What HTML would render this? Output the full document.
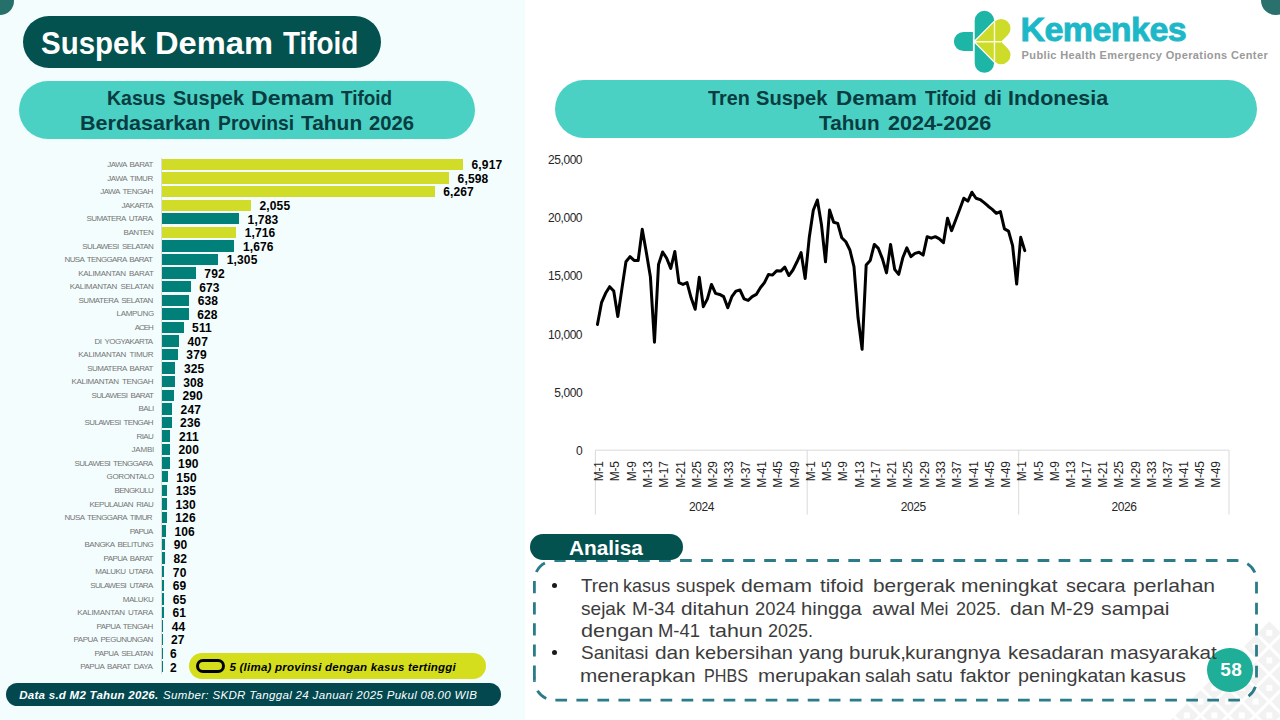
<!DOCTYPE html>
<html><head><meta charset="utf-8"><title>Suspek Demam Tifoid</title>
<style>html,body{margin:0;padding:0}body{width:1280px;height:720px;position:relative;overflow:hidden;background:#fff;font-family:'Liberation Sans',sans-serif}</style>
</head><body>
<div style="position:absolute;left:0;top:0;width:525px;height:720px;background:#f3fdfd"></div>
<svg style="position:absolute;left:0;top:0" width="1280" height="720" viewBox="0 0 1280 720"><path d="M1285.2 632.9 L1296.8 621.3 L1308.4 632.9 L1296.8 644.5 Z" fill="#f2f2f2"/><rect x="1293.8" y="629.9" width="6" height="6" fill="#fff"/><path d="M1285.2 660.4 L1296.8 648.8 L1308.4 660.4 L1296.8 672.0 Z" fill="#f2f2f2"/><rect x="1293.8" y="657.4" width="6" height="6" fill="#fff"/><path d="M1285.2 687.9 L1296.8 676.3 L1308.4 687.9 L1296.8 699.5 Z" fill="#f2f2f2"/><rect x="1293.8" y="684.9" width="6" height="6" fill="#fff"/><path d="M1285.2 715.4 L1296.8 703.8 L1308.4 715.4 L1296.8 727.0 Z" fill="#f2f2f2"/><rect x="1293.8" y="712.4" width="6" height="6" fill="#fff"/><path d="M1285.2 742.9 L1296.8 731.3 L1308.4 742.9 L1296.8 754.5 Z" fill="#f2f2f2"/><rect x="1293.8" y="739.9" width="6" height="6" fill="#fff"/><path d="M1271.5 646.6 L1283.0 635.0 L1294.6 646.6 L1283.0 658.2 Z" fill="#f2f2f2"/><rect x="1280.0" y="643.6" width="6" height="6" fill="#fff"/><path d="M1271.5 674.1 L1283.0 662.5 L1294.6 674.1 L1283.0 685.8 Z" fill="#f2f2f2"/><rect x="1280.0" y="671.1" width="6" height="6" fill="#fff"/><path d="M1271.5 701.6 L1283.0 690.0 L1294.6 701.6 L1283.0 713.2 Z" fill="#f2f2f2"/><rect x="1280.0" y="698.6" width="6" height="6" fill="#fff"/><path d="M1271.5 729.1 L1283.0 717.5 L1294.6 729.1 L1283.0 740.8 Z" fill="#f2f2f2"/><rect x="1280.0" y="726.1" width="6" height="6" fill="#fff"/><path d="M1257.7 632.9 L1269.3 621.3 L1280.9 632.9 L1269.3 644.5 Z" fill="#f2f2f2"/><rect x="1266.3" y="629.9" width="6" height="6" fill="#fff"/><path d="M1257.7 660.4 L1269.3 648.8 L1280.9 660.4 L1269.3 672.0 Z" fill="#f2f2f2"/><rect x="1266.3" y="657.4" width="6" height="6" fill="#fff"/><path d="M1257.7 687.9 L1269.3 676.3 L1280.9 687.9 L1269.3 699.5 Z" fill="#f2f2f2"/><rect x="1266.3" y="684.9" width="6" height="6" fill="#fff"/><path d="M1257.7 715.4 L1269.3 703.8 L1280.9 715.4 L1269.3 727.0 Z" fill="#f2f2f2"/><rect x="1266.3" y="712.4" width="6" height="6" fill="#fff"/><path d="M1257.7 742.9 L1269.3 731.3 L1280.9 742.9 L1269.3 754.5 Z" fill="#f2f2f2"/><rect x="1266.3" y="739.9" width="6" height="6" fill="#fff"/><path d="M1244.0 646.6 L1255.5 635.0 L1267.1 646.6 L1255.5 658.2 Z" fill="#f2f2f2"/><rect x="1252.5" y="643.6" width="6" height="6" fill="#fff"/><path d="M1244.0 674.1 L1255.5 662.5 L1267.1 674.1 L1255.5 685.8 Z" fill="#f2f2f2"/><rect x="1252.5" y="671.1" width="6" height="6" fill="#fff"/><path d="M1244.0 701.6 L1255.5 690.0 L1267.1 701.6 L1255.5 713.2 Z" fill="#f2f2f2"/><rect x="1252.5" y="698.6" width="6" height="6" fill="#fff"/><path d="M1244.0 729.1 L1255.5 717.5 L1267.1 729.1 L1255.5 740.8 Z" fill="#f2f2f2"/><rect x="1252.5" y="726.1" width="6" height="6" fill="#fff"/><path d="M1230.2 660.4 L1241.8 648.8 L1253.4 660.4 L1241.8 672.0 Z" fill="#f2f2f2"/><rect x="1238.8" y="657.4" width="6" height="6" fill="#fff"/><path d="M1230.2 687.9 L1241.8 676.3 L1253.4 687.9 L1241.8 699.5 Z" fill="#f2f2f2"/><rect x="1238.8" y="684.9" width="6" height="6" fill="#fff"/><path d="M1230.2 715.4 L1241.8 703.8 L1253.4 715.4 L1241.8 727.0 Z" fill="#f2f2f2"/><rect x="1238.8" y="712.4" width="6" height="6" fill="#fff"/><path d="M1230.2 742.9 L1241.8 731.3 L1253.4 742.9 L1241.8 754.5 Z" fill="#f2f2f2"/><rect x="1238.8" y="739.9" width="6" height="6" fill="#fff"/><path d="M1216.5 674.1 L1228.0 662.5 L1239.6 674.1 L1228.0 685.8 Z" fill="#f2f2f2"/><rect x="1225.0" y="671.1" width="6" height="6" fill="#fff"/><path d="M1216.5 701.6 L1228.0 690.0 L1239.6 701.6 L1228.0 713.2 Z" fill="#f2f2f2"/><rect x="1225.0" y="698.6" width="6" height="6" fill="#fff"/><path d="M1216.5 729.1 L1228.0 717.5 L1239.6 729.1 L1228.0 740.8 Z" fill="#f2f2f2"/><rect x="1225.0" y="726.1" width="6" height="6" fill="#fff"/><path d="M1202.7 687.9 L1214.3 676.3 L1225.9 687.9 L1214.3 699.5 Z" fill="#f2f2f2"/><rect x="1211.3" y="684.9" width="6" height="6" fill="#fff"/><path d="M1202.7 715.4 L1214.3 703.8 L1225.9 715.4 L1214.3 727.0 Z" fill="#f2f2f2"/><rect x="1211.3" y="712.4" width="6" height="6" fill="#fff"/><path d="M1202.7 742.9 L1214.3 731.3 L1225.9 742.9 L1214.3 754.5 Z" fill="#f2f2f2"/><rect x="1211.3" y="739.9" width="6" height="6" fill="#fff"/><path d="M1189.0 701.6 L1200.5 690.0 L1212.1 701.6 L1200.5 713.2 Z" fill="#f2f2f2"/><rect x="1197.5" y="698.6" width="6" height="6" fill="#fff"/><path d="M1189.0 729.1 L1200.5 717.5 L1212.1 729.1 L1200.5 740.8 Z" fill="#f2f2f2"/><rect x="1197.5" y="726.1" width="6" height="6" fill="#fff"/><path d="M1175.2 715.4 L1186.8 703.8 L1198.4 715.4 L1186.8 727.0 Z" fill="#f2f2f2"/><rect x="1183.8" y="712.4" width="6" height="6" fill="#fff"/><path d="M1175.2 742.9 L1186.8 731.3 L1198.4 742.9 L1186.8 754.5 Z" fill="#f2f2f2"/><rect x="1183.8" y="739.9" width="6" height="6" fill="#fff"/><path d="M1161.5 729.1 L1173.0 717.5 L1184.6 729.1 L1173.0 740.8 Z" fill="#f2f2f2"/><rect x="1170.0" y="726.1" width="6" height="6" fill="#fff"/><path d="M1147.7 742.9 L1159.3 731.3 L1170.9 742.9 L1159.3 754.5 Z" fill="#f2f2f2"/><rect x="1156.3" y="739.9" width="6" height="6" fill="#fff"/></svg>
<div style="position:absolute;left:-14px;top:-13px;width:28px;height:28px;border-radius:50%;background:#26706b"></div>
<div style="position:absolute;left:1261px;top:-14.5px;width:30px;height:29.5px;border-radius:50%;background:#2a706c"></div>
<div style="position:absolute;left:23px;top:16px;width:357.5px;height:51.7px;border-radius:26px;background:#03524f"></div>
<div style="position:absolute;left:19px;top:80.5px;width:455.6px;height:58.3px;border-radius:29.2px;background:#4bd0c4"></div>
<div style="position:absolute;left:554.5px;top:80.3px;width:702.4px;height:58.2px;border-radius:29.2px;background:#4bd0c4"></div>
<svg style="position:absolute;left:940px;top:0" width="100" height="80" viewBox="940 0 100 80">
<g fill="#1db5a6">
<path d="M972.9 31.9 H963.5 A9.6 9.6 0 0 0 963.5 51.1 H972.9 Z"/>
<rect x="974.7" y="10.8" width="19.4" height="62" rx="9.7"/>
</g>
<path d="M974.9 41.7 L994.62 21.82 A9.3 9.3 0 0 1 1007.78 34.98 L1001.1 41.7 L1007.78 48.42 A9.3 9.3 0 0 1 994.62 61.58 Z" fill="#fff" stroke="#fff" stroke-width="2.6" stroke-linejoin="round"/>
<path d="M974.9 41.7 L994.62 21.82 A9.3 9.3 0 0 1 1007.78 34.98 L1001.1 41.7 L1007.78 48.42 A9.3 9.3 0 0 1 994.62 61.58 Z" fill="#cddc29"/>
<path d="M994.5 21.9 V61.5 M975 41.7 H1001.2" stroke="#fbfbe2" stroke-width="1.4" fill="none"/>
</svg>
<div style="position:absolute;left:160.6px;top:157.5px;width:1px;height:516px;background:#d9dcdc"></div>
<div style="position:absolute;left:162.10000000000002px;top:158.80px;width:300.92px;height:11.4px;background:#d0dc28"></div>
<div style="position:absolute;left:162.10000000000002px;top:172.38px;width:287.00px;height:11.4px;background:#d0dc28"></div>
<div style="position:absolute;left:162.10000000000002px;top:185.95px;width:272.57px;height:11.4px;background:#d0dc28"></div>
<div style="position:absolute;left:162.10000000000002px;top:199.53px;width:88.84px;height:11.4px;background:#d0dc28"></div>
<div style="position:absolute;left:162.10000000000002px;top:213.10px;width:76.97px;height:11.4px;background:#008078"></div>
<div style="position:absolute;left:162.10000000000002px;top:226.68px;width:74.05px;height:11.4px;background:#d0dc28"></div>
<div style="position:absolute;left:162.10000000000002px;top:240.25px;width:72.31px;height:11.4px;background:#008078"></div>
<div style="position:absolute;left:162.10000000000002px;top:253.82px;width:56.12px;height:11.4px;background:#008078"></div>
<div style="position:absolute;left:162.10000000000002px;top:267.40px;width:33.75px;height:11.4px;background:#008078"></div>
<div style="position:absolute;left:162.10000000000002px;top:280.98px;width:28.56px;height:11.4px;background:#008078"></div>
<div style="position:absolute;left:162.10000000000002px;top:294.55px;width:27.03px;height:11.4px;background:#008078"></div>
<div style="position:absolute;left:162.10000000000002px;top:308.12px;width:26.59px;height:11.4px;background:#008078"></div>
<div style="position:absolute;left:162.10000000000002px;top:321.70px;width:21.49px;height:11.4px;background:#008078"></div>
<div style="position:absolute;left:162.10000000000002px;top:335.27px;width:16.95px;height:11.4px;background:#008078"></div>
<div style="position:absolute;left:162.10000000000002px;top:348.85px;width:15.73px;height:11.4px;background:#008078"></div>
<div style="position:absolute;left:162.10000000000002px;top:362.43px;width:13.38px;height:11.4px;background:#008078"></div>
<div style="position:absolute;left:162.10000000000002px;top:376.00px;width:12.63px;height:11.4px;background:#008078"></div>
<div style="position:absolute;left:162.10000000000002px;top:389.57px;width:11.85px;height:11.4px;background:#008078"></div>
<div style="position:absolute;left:162.10000000000002px;top:403.15px;width:9.97px;height:11.4px;background:#008078"></div>
<div style="position:absolute;left:162.10000000000002px;top:416.73px;width:9.49px;height:11.4px;background:#008078"></div>
<div style="position:absolute;left:162.10000000000002px;top:430.30px;width:8.40px;height:11.4px;background:#008078"></div>
<div style="position:absolute;left:162.10000000000002px;top:443.88px;width:7.92px;height:11.4px;background:#008078"></div>
<div style="position:absolute;left:162.10000000000002px;top:457.45px;width:7.49px;height:11.4px;background:#008078"></div>
<div style="position:absolute;left:162.10000000000002px;top:471.02px;width:5.74px;height:11.4px;background:#008078"></div>
<div style="position:absolute;left:162.10000000000002px;top:484.60px;width:5.09px;height:11.4px;background:#008078"></div>
<div style="position:absolute;left:162.10000000000002px;top:498.18px;width:4.87px;height:11.4px;background:#008078"></div>
<div style="position:absolute;left:162.10000000000002px;top:511.75px;width:4.70px;height:11.4px;background:#008078"></div>
<div style="position:absolute;left:162.10000000000002px;top:525.33px;width:3.82px;height:11.4px;background:#008078"></div>
<div style="position:absolute;left:162.10000000000002px;top:538.90px;width:3.13px;height:11.4px;background:#008078"></div>
<div style="position:absolute;left:162.10000000000002px;top:552.47px;width:2.78px;height:11.4px;background:#008078"></div>
<div style="position:absolute;left:162.10000000000002px;top:566.05px;width:2.25px;height:11.4px;background:#008078"></div>
<div style="position:absolute;left:162.10000000000002px;top:579.62px;width:2.21px;height:11.4px;background:#008078"></div>
<div style="position:absolute;left:162.10000000000002px;top:593.20px;width:2.04px;height:11.4px;background:#008078"></div>
<div style="position:absolute;left:162.10000000000002px;top:606.77px;width:1.86px;height:11.4px;background:#008078"></div>
<div style="position:absolute;left:162.10000000000002px;top:620.35px;width:1.12px;height:11.4px;background:#008078"></div>
<div style="position:absolute;left:162.10000000000002px;top:633.92px;width:1.00px;height:11.4px;background:#008078"></div>
<div style="position:absolute;left:162.10000000000002px;top:647.50px;width:1.00px;height:11.4px;background:#008078"></div>
<div style="position:absolute;left:162.10000000000002px;top:661.08px;width:1.00px;height:11.4px;background:#008078"></div>
<div style="position:absolute;left:189.3px;top:652.8px;width:296.6px;height:25.8px;border-radius:12.9px;background:#d5de1c"></div>
<div style="position:absolute;left:196.2px;top:659.1px;width:22.9px;height:8.4px;border:3.2px solid #000;border-radius:7.4px"></div>
<div style="position:absolute;left:6px;top:683.3px;width:495px;height:22.7px;border-radius:11.4px;background:#03484f"></div>
<svg style="position:absolute;left:0;top:0" width="1280" height="720" viewBox="0 0 1280 720"><path d="M595.4 450.2 H1229.0" stroke="#d9d9d9" stroke-width="1" fill="none"/><path d="M595.4 450.2 V514.5" stroke="#d9d9d9" stroke-width="1" fill="none"/><path d="M807.2 450.2 V514.5" stroke="#d9d9d9" stroke-width="1" fill="none"/><path d="M1018.7 450.2 V514.5" stroke="#d9d9d9" stroke-width="1" fill="none"/><path d="M1229.0 450.2 V514.5" stroke="#d9d9d9" stroke-width="1" fill="none"/><text transform="translate(603.04 461.2) rotate(-90)" text-anchor="end" font-family="Liberation Sans, sans-serif" font-size="12" fill="#262626" letter-spacing="-0.2">M-1</text><text transform="translate(619.33 461.2) rotate(-90)" text-anchor="end" font-family="Liberation Sans, sans-serif" font-size="12" fill="#262626" letter-spacing="-0.2">M-5</text><text transform="translate(635.62 461.2) rotate(-90)" text-anchor="end" font-family="Liberation Sans, sans-serif" font-size="12" fill="#262626" letter-spacing="-0.2">M-9</text><text transform="translate(651.91 461.2) rotate(-90)" text-anchor="end" font-family="Liberation Sans, sans-serif" font-size="12" fill="#262626" letter-spacing="-0.2">M-13</text><text transform="translate(668.21 461.2) rotate(-90)" text-anchor="end" font-family="Liberation Sans, sans-serif" font-size="12" fill="#262626" letter-spacing="-0.2">M-17</text><text transform="translate(684.50 461.2) rotate(-90)" text-anchor="end" font-family="Liberation Sans, sans-serif" font-size="12" fill="#262626" letter-spacing="-0.2">M-21</text><text transform="translate(700.79 461.2) rotate(-90)" text-anchor="end" font-family="Liberation Sans, sans-serif" font-size="12" fill="#262626" letter-spacing="-0.2">M-25</text><text transform="translate(717.08 461.2) rotate(-90)" text-anchor="end" font-family="Liberation Sans, sans-serif" font-size="12" fill="#262626" letter-spacing="-0.2">M-29</text><text transform="translate(733.38 461.2) rotate(-90)" text-anchor="end" font-family="Liberation Sans, sans-serif" font-size="12" fill="#262626" letter-spacing="-0.2">M-33</text><text transform="translate(749.67 461.2) rotate(-90)" text-anchor="end" font-family="Liberation Sans, sans-serif" font-size="12" fill="#262626" letter-spacing="-0.2">M-37</text><text transform="translate(765.96 461.2) rotate(-90)" text-anchor="end" font-family="Liberation Sans, sans-serif" font-size="12" fill="#262626" letter-spacing="-0.2">M-41</text><text transform="translate(782.25 461.2) rotate(-90)" text-anchor="end" font-family="Liberation Sans, sans-serif" font-size="12" fill="#262626" letter-spacing="-0.2">M-45</text><text transform="translate(798.54 461.2) rotate(-90)" text-anchor="end" font-family="Liberation Sans, sans-serif" font-size="12" fill="#262626" letter-spacing="-0.2">M-49</text><text transform="translate(814.83 461.2) rotate(-90)" text-anchor="end" font-family="Liberation Sans, sans-serif" font-size="12" fill="#262626" letter-spacing="-0.2">M-1</text><text transform="translate(831.10 461.2) rotate(-90)" text-anchor="end" font-family="Liberation Sans, sans-serif" font-size="12" fill="#262626" letter-spacing="-0.2">M-5</text><text transform="translate(847.37 461.2) rotate(-90)" text-anchor="end" font-family="Liberation Sans, sans-serif" font-size="12" fill="#262626" letter-spacing="-0.2">M-9</text><text transform="translate(863.64 461.2) rotate(-90)" text-anchor="end" font-family="Liberation Sans, sans-serif" font-size="12" fill="#262626" letter-spacing="-0.2">M-13</text><text transform="translate(879.91 461.2) rotate(-90)" text-anchor="end" font-family="Liberation Sans, sans-serif" font-size="12" fill="#262626" letter-spacing="-0.2">M-17</text><text transform="translate(896.18 461.2) rotate(-90)" text-anchor="end" font-family="Liberation Sans, sans-serif" font-size="12" fill="#262626" letter-spacing="-0.2">M-21</text><text transform="translate(912.45 461.2) rotate(-90)" text-anchor="end" font-family="Liberation Sans, sans-serif" font-size="12" fill="#262626" letter-spacing="-0.2">M-25</text><text transform="translate(928.72 461.2) rotate(-90)" text-anchor="end" font-family="Liberation Sans, sans-serif" font-size="12" fill="#262626" letter-spacing="-0.2">M-29</text><text transform="translate(944.99 461.2) rotate(-90)" text-anchor="end" font-family="Liberation Sans, sans-serif" font-size="12" fill="#262626" letter-spacing="-0.2">M-33</text><text transform="translate(961.26 461.2) rotate(-90)" text-anchor="end" font-family="Liberation Sans, sans-serif" font-size="12" fill="#262626" letter-spacing="-0.2">M-37</text><text transform="translate(977.53 461.2) rotate(-90)" text-anchor="end" font-family="Liberation Sans, sans-serif" font-size="12" fill="#262626" letter-spacing="-0.2">M-41</text><text transform="translate(993.80 461.2) rotate(-90)" text-anchor="end" font-family="Liberation Sans, sans-serif" font-size="12" fill="#262626" letter-spacing="-0.2">M-45</text><text transform="translate(1010.06 461.2) rotate(-90)" text-anchor="end" font-family="Liberation Sans, sans-serif" font-size="12" fill="#262626" letter-spacing="-0.2">M-49</text><text transform="translate(1026.32 461.2) rotate(-90)" text-anchor="end" font-family="Liberation Sans, sans-serif" font-size="12" fill="#262626" letter-spacing="-0.2">M-1</text><text transform="translate(1042.50 461.2) rotate(-90)" text-anchor="end" font-family="Liberation Sans, sans-serif" font-size="12" fill="#262626" letter-spacing="-0.2">M-5</text><text transform="translate(1058.68 461.2) rotate(-90)" text-anchor="end" font-family="Liberation Sans, sans-serif" font-size="12" fill="#262626" letter-spacing="-0.2">M-9</text><text transform="translate(1074.85 461.2) rotate(-90)" text-anchor="end" font-family="Liberation Sans, sans-serif" font-size="12" fill="#262626" letter-spacing="-0.2">M-13</text><text transform="translate(1091.03 461.2) rotate(-90)" text-anchor="end" font-family="Liberation Sans, sans-serif" font-size="12" fill="#262626" letter-spacing="-0.2">M-17</text><text transform="translate(1107.21 461.2) rotate(-90)" text-anchor="end" font-family="Liberation Sans, sans-serif" font-size="12" fill="#262626" letter-spacing="-0.2">M-21</text><text transform="translate(1123.38 461.2) rotate(-90)" text-anchor="end" font-family="Liberation Sans, sans-serif" font-size="12" fill="#262626" letter-spacing="-0.2">M-25</text><text transform="translate(1139.56 461.2) rotate(-90)" text-anchor="end" font-family="Liberation Sans, sans-serif" font-size="12" fill="#262626" letter-spacing="-0.2">M-29</text><text transform="translate(1155.74 461.2) rotate(-90)" text-anchor="end" font-family="Liberation Sans, sans-serif" font-size="12" fill="#262626" letter-spacing="-0.2">M-33</text><text transform="translate(1171.91 461.2) rotate(-90)" text-anchor="end" font-family="Liberation Sans, sans-serif" font-size="12" fill="#262626" letter-spacing="-0.2">M-37</text><text transform="translate(1188.09 461.2) rotate(-90)" text-anchor="end" font-family="Liberation Sans, sans-serif" font-size="12" fill="#262626" letter-spacing="-0.2">M-41</text><text transform="translate(1204.27 461.2) rotate(-90)" text-anchor="end" font-family="Liberation Sans, sans-serif" font-size="12" fill="#262626" letter-spacing="-0.2">M-45</text><text transform="translate(1220.45 461.2) rotate(-90)" text-anchor="end" font-family="Liberation Sans, sans-serif" font-size="12" fill="#262626" letter-spacing="-0.2">M-49</text><text x="701.6" y="511" text-anchor="middle" font-family="Liberation Sans, sans-serif" font-size="12" fill="#262626" letter-spacing="-0.4">2024</text><text x="913.2" y="511" text-anchor="middle" font-family="Liberation Sans, sans-serif" font-size="12" fill="#262626" letter-spacing="-0.4">2025</text><text x="1124.1" y="511" text-anchor="middle" font-family="Liberation Sans, sans-serif" font-size="12" fill="#262626" letter-spacing="-0.4">2026</text><polyline points="597.44,324.44 601.51,302.67 605.58,293.33 609.66,286.67 613.73,291.11 617.80,316.44 621.88,288.89 625.95,261.78 630.02,256.67 634.09,260.44 638.17,260.44 642.24,229.33 646.31,252.22 650.39,276.67 654.46,342.22 658.53,264.44 662.61,252.00 666.68,258.22 670.75,268.44 674.83,251.56 678.90,282.67 682.97,284.44 687.04,282.67 691.12,297.78 695.19,309.33 699.26,277.33 703.34,306.67 707.41,298.89 711.48,284.44 715.56,293.33 719.63,294.44 723.70,296.67 727.77,307.78 731.85,296.67 735.92,291.11 739.99,290.00 744.07,298.89 748.14,300.44 752.21,296.67 756.29,294.44 760.36,287.78 764.43,282.67 768.51,274.44 772.58,275.11 776.65,270.67 780.73,271.11 784.80,267.11 788.87,275.56 792.94,270.00 797.02,261.78 801.09,252.67 805.16,278.44 809.23,237.78 813.30,210.22 817.37,200.00 821.44,224.44 825.50,261.78 829.57,210.00 833.64,222.22 837.70,223.33 841.77,237.78 845.84,241.78 849.91,250.00 853.97,266.67 858.04,317.78 862.11,349.33 866.18,264.89 870.24,260.44 874.31,244.44 878.38,248.44 882.45,258.89 886.51,272.89 890.58,244.44 894.65,269.33 898.71,274.44 902.78,257.78 906.85,247.78 910.92,256.67 914.98,253.33 919.05,252.22 923.12,255.11 927.19,236.67 931.25,238.22 935.32,236.67 939.39,238.89 943.45,242.67 947.52,218.22 951.59,230.67 955.66,220.00 959.72,209.33 963.79,198.22 967.86,201.11 971.93,192.22 975.99,198.22 980.06,199.56 984.13,202.67 988.20,206.22 992.26,209.33 996.33,213.33 1000.40,211.56 1004.46,228.89 1008.53,231.11 1012.60,245.56 1016.67,284.00 1020.72,237.33 1024.77,250.67" fill="none" stroke="#000" stroke-width="3" stroke-linejoin="round" stroke-linecap="round"/></svg>
<svg style="position:absolute;left:0;top:0" width="1280" height="720" viewBox="0 0 1280 720"><g fill="none" stroke="#2a7c88" stroke-width="2.8">
<path d="M554.4 560.5 H1236.5 A20 20 0 0 1 1256.5 580.5 V680.2 A20 20 0 0 1 1236.5 700.2 H554.4 A20 20 0 0 1 534.4 680.2" stroke-dasharray="11.7 9.33" stroke-dashoffset="0.5"/>
<path d="M534.4 580.5 V680.4" stroke-dasharray="12.2 8.9" stroke-dashoffset="-0.6"/>
<path d="M534.4 677 V680.4"/>
<path d="M534.4 580.5 A20 20 0 0 1 554.4 560.5" stroke-dasharray="0 8.75 12.6 100"/>
</g></svg>
<div style="position:absolute;left:529.8px;top:533.9px;width:153.5px;height:25.8px;border-radius:12.9px;background:#03524f"></div>
<div style="position:absolute;left:551.8px;top:582.9px;width:5.2px;height:5.2px;border-radius:50%;background:#1a1a1a"></div>
<div style="position:absolute;left:551.8px;top:650.3px;width:5.2px;height:5.2px;border-radius:50%;background:#1a1a1a"></div>
<div style="position:absolute;left:1207.2px;top:647.8px;width:45.4px;height:44.4px;border-radius:50%;background:#1fae98"></div>
<span style="position:absolute;white-space:pre;font-family:'Liberation Sans',sans-serif;font-size:30.5px;line-height:30.5px;font-weight:700;font-style:normal;color:#fff;top:27.68px;left:40.90px;transform:scaleX(0.9656);transform-origin:0 0;">Suspek</span>
<span style="position:absolute;white-space:pre;font-family:'Liberation Sans',sans-serif;font-size:30.5px;line-height:30.5px;font-weight:700;font-style:normal;color:#fff;top:27.68px;left:155.06px;transform:scaleX(1.0703);transform-origin:0 0;">Demam</span>
<span style="position:absolute;white-space:pre;font-family:'Liberation Sans',sans-serif;font-size:30.5px;line-height:30.5px;font-weight:700;font-style:normal;color:#fff;top:27.68px;left:282.50px;transform:scaleX(0.9144);transform-origin:0 0;">Tifoid</span>
<span style="position:absolute;white-space:pre;font-family:'Liberation Sans',sans-serif;font-size:20.4px;line-height:20.4px;font-weight:700;font-style:normal;color:#083c40;top:87.93px;left:106.74px;transform:scaleX(0.9572);transform-origin:0 0;">Kasus</span>
<span style="position:absolute;white-space:pre;font-family:'Liberation Sans',sans-serif;font-size:20.4px;line-height:20.4px;font-weight:700;font-style:normal;color:#083c40;top:87.93px;left:173.00px;transform:scaleX(0.9796);transform-origin:0 0;">Suspek</span>
<span style="position:absolute;white-space:pre;font-family:'Liberation Sans',sans-serif;font-size:20.4px;line-height:20.4px;font-weight:700;font-style:normal;color:#083c40;top:87.93px;left:251.17px;transform:scaleX(1.1309);transform-origin:0 0;">Demam</span>
<span style="position:absolute;white-space:pre;font-family:'Liberation Sans',sans-serif;font-size:20.4px;line-height:20.4px;font-weight:700;font-style:normal;color:#083c40;top:87.93px;left:341.40px;transform:scaleX(0.9275);transform-origin:0 0;">Tifoid</span>
<span style="position:absolute;white-space:pre;font-family:'Liberation Sans',sans-serif;font-size:20.4px;line-height:20.4px;font-weight:700;font-style:normal;color:#083c40;top:113.23px;left:80.14px;transform:scaleX(1.0558);transform-origin:0 0;">Berdasarkan</span>
<span style="position:absolute;white-space:pre;font-family:'Liberation Sans',sans-serif;font-size:20.4px;line-height:20.4px;font-weight:700;font-style:normal;color:#083c40;top:113.23px;left:217.85px;transform:scaleX(0.9468);transform-origin:0 0;">Provinsi</span>
<span style="position:absolute;white-space:pre;font-family:'Liberation Sans',sans-serif;font-size:20.4px;line-height:20.4px;font-weight:700;font-style:normal;color:#083c40;top:113.23px;left:300.60px;transform:scaleX(1.0255);transform-origin:0 0;">Tahun</span>
<span style="position:absolute;white-space:pre;font-family:'Liberation Sans',sans-serif;font-size:20.4px;line-height:20.4px;font-weight:700;font-style:normal;color:#083c40;top:113.23px;left:369.00px;transform:scaleX(0.9929);transform-origin:0 0;">2026</span>
<span style="position:absolute;white-space:pre;font-family:'Liberation Sans',sans-serif;font-size:20.4px;line-height:20.4px;font-weight:700;font-style:normal;color:#083c40;top:87.98px;left:707.70px;transform:scaleX(0.9694);transform-origin:0 0;">Tren</span>
<span style="position:absolute;white-space:pre;font-family:'Liberation Sans',sans-serif;font-size:20.4px;line-height:20.4px;font-weight:700;font-style:normal;color:#083c40;top:87.98px;left:755.90px;transform:scaleX(0.9851);transform-origin:0 0;">Suspek</span>
<span style="position:absolute;white-space:pre;font-family:'Liberation Sans',sans-serif;font-size:20.4px;line-height:20.4px;font-weight:700;font-style:normal;color:#083c40;top:87.98px;left:836.40px;transform:scaleX(1.1001);transform-origin:0 0;">Demam</span>
<span style="position:absolute;white-space:pre;font-family:'Liberation Sans',sans-serif;font-size:20.4px;line-height:20.4px;font-weight:700;font-style:normal;color:#083c40;top:87.98px;left:924.90px;transform:scaleX(0.9293);transform-origin:0 0;">Tifoid</span>
<span style="position:absolute;white-space:pre;font-family:'Liberation Sans',sans-serif;font-size:20.4px;line-height:20.4px;font-weight:700;font-style:normal;color:#083c40;top:87.98px;left:984.20px;transform:scaleX(0.9854);transform-origin:0 0;">di</span>
<span style="position:absolute;white-space:pre;font-family:'Liberation Sans',sans-serif;font-size:20.4px;line-height:20.4px;font-weight:700;font-style:normal;color:#083c40;top:87.98px;left:1008.05px;transform:scaleX(1.0524);transform-origin:0 0;">Indonesia</span>
<span style="position:absolute;white-space:pre;font-family:'Liberation Sans',sans-serif;font-size:20.4px;line-height:20.4px;font-weight:700;font-style:normal;color:#083c40;top:113.43px;left:819.40px;transform:scaleX(1.0170);transform-origin:0 0;">Tahun</span>
<span style="position:absolute;white-space:pre;font-family:'Liberation Sans',sans-serif;font-size:20.4px;line-height:20.4px;font-weight:700;font-style:normal;color:#083c40;top:113.43px;left:887.80px;transform:scaleX(1.0600);transform-origin:0 0;">2024-2026</span>
<span style="position:absolute;white-space:pre;font-family:'Liberation Sans',sans-serif;font-size:34px;line-height:34px;font-weight:700;font-style:normal;color:#1cb8c8;top:12.22px;left:1020.45px;letter-spacing:-0.556px;-webkit-text-stroke:0.9px #1cb8c8;">Kemenkes</span>
<span style="position:absolute;white-space:pre;font-family:'Liberation Sans',sans-serif;font-size:11px;line-height:11px;font-weight:700;font-style:normal;color:#9a9a9a;top:49.69px;left:1021.60px;letter-spacing:0.375px;">Public Health Emergency Operations Center</span>
<span style="position:absolute;white-space:pre;font-family:'Liberation Sans',sans-serif;font-size:12px;line-height:12px;font-weight:700;font-style:normal;color:#000;top:159.34px;left:471.52px;letter-spacing:0.15px;">6,917</span>
<span style="position:absolute;white-space:pre;font-family:'Liberation Sans',sans-serif;font-size:8px;line-height:8px;font-weight:400;font-style:normal;color:#757575;top:161.13px;left:107.30px;letter-spacing:-0.549px;word-spacing:1.6px;">JAWA BARAT</span>
<span style="position:absolute;white-space:pre;font-family:'Liberation Sans',sans-serif;font-size:12px;line-height:12px;font-weight:700;font-style:normal;color:#000;top:172.92px;left:457.60px;letter-spacing:0.15px;">6,598</span>
<span style="position:absolute;white-space:pre;font-family:'Liberation Sans',sans-serif;font-size:8px;line-height:8px;font-weight:400;font-style:normal;color:#757575;top:174.70px;left:107.30px;letter-spacing:-0.478px;word-spacing:1.6px;">JAWA TIMUR</span>
<span style="position:absolute;white-space:pre;font-family:'Liberation Sans',sans-serif;font-size:12px;line-height:12px;font-weight:700;font-style:normal;color:#000;top:186.49px;left:443.17px;letter-spacing:0.15px;">6,267</span>
<span style="position:absolute;white-space:pre;font-family:'Liberation Sans',sans-serif;font-size:8px;line-height:8px;font-weight:400;font-style:normal;color:#757575;top:188.28px;left:100.30px;letter-spacing:-0.531px;word-spacing:1.6px;">JAWA TENGAH</span>
<span style="position:absolute;white-space:pre;font-family:'Liberation Sans',sans-serif;font-size:12px;line-height:12px;font-weight:700;font-style:normal;color:#000;top:200.07px;left:259.44px;letter-spacing:0.15px;">2,055</span>
<span style="position:absolute;white-space:pre;font-family:'Liberation Sans',sans-serif;font-size:8px;line-height:8px;font-weight:400;font-style:normal;color:#757575;top:201.85px;left:121.55px;letter-spacing:-0.581px;word-spacing:1.6px;">JAKARTA</span>
<span style="position:absolute;white-space:pre;font-family:'Liberation Sans',sans-serif;font-size:12px;line-height:12px;font-weight:700;font-style:normal;color:#000;top:213.64px;left:247.57px;letter-spacing:0.15px;">1,783</span>
<span style="position:absolute;white-space:pre;font-family:'Liberation Sans',sans-serif;font-size:8px;line-height:8px;font-weight:400;font-style:normal;color:#757575;top:215.43px;left:86.55px;letter-spacing:-0.570px;word-spacing:1.6px;">SUMATERA UTARA</span>
<span style="position:absolute;white-space:pre;font-family:'Liberation Sans',sans-serif;font-size:12px;line-height:12px;font-weight:700;font-style:normal;color:#000;top:227.22px;left:244.65px;letter-spacing:0.15px;">1,716</span>
<span style="position:absolute;white-space:pre;font-family:'Liberation Sans',sans-serif;font-size:8px;line-height:8px;font-weight:400;font-style:normal;color:#757575;top:229.00px;left:123.55px;letter-spacing:-0.444px;word-spacing:1.6px;">BANTEN</span>
<span style="position:absolute;white-space:pre;font-family:'Liberation Sans',sans-serif;font-size:12px;line-height:12px;font-weight:700;font-style:normal;color:#000;top:240.79px;left:242.91px;letter-spacing:0.15px;">1,676</span>
<span style="position:absolute;white-space:pre;font-family:'Liberation Sans',sans-serif;font-size:8px;line-height:8px;font-weight:400;font-style:normal;color:#757575;top:242.58px;left:82.30px;letter-spacing:-0.577px;word-spacing:1.6px;">SULAWESI SELATAN</span>
<span style="position:absolute;white-space:pre;font-family:'Liberation Sans',sans-serif;font-size:12px;line-height:12px;font-weight:700;font-style:normal;color:#000;top:254.37px;left:226.72px;letter-spacing:0.15px;">1,305</span>
<span style="position:absolute;white-space:pre;font-family:'Liberation Sans',sans-serif;font-size:8px;line-height:8px;font-weight:400;font-style:normal;color:#757575;top:256.15px;left:64.55px;letter-spacing:-0.639px;word-spacing:1.6px;">NUSA TENGGARA BARAT</span>
<span style="position:absolute;white-space:pre;font-family:'Liberation Sans',sans-serif;font-size:12px;line-height:12px;font-weight:700;font-style:normal;color:#000;top:267.94px;left:204.35px;letter-spacing:0.15px;">792</span>
<span style="position:absolute;white-space:pre;font-family:'Liberation Sans',sans-serif;font-size:8px;line-height:8px;font-weight:400;font-style:normal;color:#757575;top:269.73px;left:78.30px;letter-spacing:-0.323px;word-spacing:1.6px;">KALIMANTAN BARAT</span>
<span style="position:absolute;white-space:pre;font-family:'Liberation Sans',sans-serif;font-size:12px;line-height:12px;font-weight:700;font-style:normal;color:#000;top:281.52px;left:199.16px;letter-spacing:0.15px;">673</span>
<span style="position:absolute;white-space:pre;font-family:'Liberation Sans',sans-serif;font-size:8px;line-height:8px;font-weight:400;font-style:normal;color:#757575;top:283.30px;left:69.80px;letter-spacing:-0.332px;word-spacing:1.6px;">KALIMANTAN SELATAN</span>
<span style="position:absolute;white-space:pre;font-family:'Liberation Sans',sans-serif;font-size:12px;line-height:12px;font-weight:700;font-style:normal;color:#000;top:295.09px;left:197.63px;letter-spacing:0.15px;">638</span>
<span style="position:absolute;white-space:pre;font-family:'Liberation Sans',sans-serif;font-size:8px;line-height:8px;font-weight:400;font-style:normal;color:#757575;top:296.88px;left:78.55px;letter-spacing:-0.515px;word-spacing:1.6px;">SUMATERA SELATAN</span>
<span style="position:absolute;white-space:pre;font-family:'Liberation Sans',sans-serif;font-size:12px;line-height:12px;font-weight:700;font-style:normal;color:#000;top:308.67px;left:197.19px;letter-spacing:0.15px;">628</span>
<span style="position:absolute;white-space:pre;font-family:'Liberation Sans',sans-serif;font-size:8px;line-height:8px;font-weight:400;font-style:normal;color:#757575;top:310.45px;left:116.55px;letter-spacing:-0.315px;word-spacing:1.6px;">LAMPUNG</span>
<span style="position:absolute;white-space:pre;font-family:'Liberation Sans',sans-serif;font-size:12px;line-height:12px;font-weight:700;font-style:normal;color:#000;top:322.24px;left:192.09px;letter-spacing:0.15px;">511</span>
<span style="position:absolute;white-space:pre;font-family:'Liberation Sans',sans-serif;font-size:8px;line-height:8px;font-weight:400;font-style:normal;color:#757575;top:324.03px;left:134.80px;letter-spacing:-1.083px;word-spacing:1.6px;">ACEH</span>
<span style="position:absolute;white-space:pre;font-family:'Liberation Sans',sans-serif;font-size:12px;line-height:12px;font-weight:700;font-style:normal;color:#000;top:335.82px;left:187.55px;letter-spacing:0.15px;">407</span>
<span style="position:absolute;white-space:pre;font-family:'Liberation Sans',sans-serif;font-size:8px;line-height:8px;font-weight:400;font-style:normal;color:#757575;top:337.60px;left:94.55px;letter-spacing:-0.569px;word-spacing:1.6px;">DI YOGYAKARTA</span>
<span style="position:absolute;white-space:pre;font-family:'Liberation Sans',sans-serif;font-size:12px;line-height:12px;font-weight:700;font-style:normal;color:#000;top:349.39px;left:186.33px;letter-spacing:0.15px;">379</span>
<span style="position:absolute;white-space:pre;font-family:'Liberation Sans',sans-serif;font-size:8px;line-height:8px;font-weight:400;font-style:normal;color:#757575;top:351.18px;left:78.30px;letter-spacing:-0.280px;word-spacing:1.6px;">KALIMANTAN TIMUR</span>
<span style="position:absolute;white-space:pre;font-family:'Liberation Sans',sans-serif;font-size:12px;line-height:12px;font-weight:700;font-style:normal;color:#000;top:362.97px;left:183.98px;letter-spacing:0.15px;">325</span>
<span style="position:absolute;white-space:pre;font-family:'Liberation Sans',sans-serif;font-size:8px;line-height:8px;font-weight:400;font-style:normal;color:#757575;top:364.75px;left:87.30px;letter-spacing:-0.552px;word-spacing:1.6px;">SUMATERA BARAT</span>
<span style="position:absolute;white-space:pre;font-family:'Liberation Sans',sans-serif;font-size:12px;line-height:12px;font-weight:700;font-style:normal;color:#000;top:376.54px;left:183.23px;letter-spacing:0.15px;">308</span>
<span style="position:absolute;white-space:pre;font-family:'Liberation Sans',sans-serif;font-size:8px;line-height:8px;font-weight:400;font-style:normal;color:#757575;top:378.33px;left:71.55px;letter-spacing:-0.341px;word-spacing:1.6px;">KALIMANTAN TENGAH</span>
<span style="position:absolute;white-space:pre;font-family:'Liberation Sans',sans-serif;font-size:12px;line-height:12px;font-weight:700;font-style:normal;color:#000;top:390.12px;left:182.45px;letter-spacing:0.15px;">290</span>
<span style="position:absolute;white-space:pre;font-family:'Liberation Sans',sans-serif;font-size:8px;line-height:8px;font-weight:400;font-style:normal;color:#757575;top:391.90px;left:91.55px;letter-spacing:-0.662px;word-spacing:1.6px;">SULAWESI BARAT</span>
<span style="position:absolute;white-space:pre;font-family:'Liberation Sans',sans-serif;font-size:12px;line-height:12px;font-weight:700;font-style:normal;color:#000;top:403.69px;left:180.57px;letter-spacing:0.15px;">247</span>
<span style="position:absolute;white-space:pre;font-family:'Liberation Sans',sans-serif;font-size:8px;line-height:8px;font-weight:400;font-style:normal;color:#757575;top:405.48px;left:138.55px;letter-spacing:-0.557px;word-spacing:1.6px;">BALI</span>
<span style="position:absolute;white-space:pre;font-family:'Liberation Sans',sans-serif;font-size:12px;line-height:12px;font-weight:700;font-style:normal;color:#000;top:417.27px;left:180.09px;letter-spacing:0.15px;">236</span>
<span style="position:absolute;white-space:pre;font-family:'Liberation Sans',sans-serif;font-size:8px;line-height:8px;font-weight:400;font-style:normal;color:#757575;top:419.05px;left:84.55px;letter-spacing:-0.641px;word-spacing:1.6px;">SULAWESI TENGAH</span>
<span style="position:absolute;white-space:pre;font-family:'Liberation Sans',sans-serif;font-size:12px;line-height:12px;font-weight:700;font-style:normal;color:#000;top:430.84px;left:179.00px;letter-spacing:0.15px;">211</span>
<span style="position:absolute;white-space:pre;font-family:'Liberation Sans',sans-serif;font-size:8px;line-height:8px;font-weight:400;font-style:normal;color:#757575;top:432.63px;left:136.55px;letter-spacing:-0.629px;word-spacing:1.6px;">RIAU</span>
<span style="position:absolute;white-space:pre;font-family:'Liberation Sans',sans-serif;font-size:12px;line-height:12px;font-weight:700;font-style:normal;color:#000;top:444.42px;left:178.52px;letter-spacing:0.15px;">200</span>
<span style="position:absolute;white-space:pre;font-family:'Liberation Sans',sans-serif;font-size:8px;line-height:8px;font-weight:400;font-style:normal;color:#757575;top:446.20px;left:131.55px;letter-spacing:-0.221px;word-spacing:1.6px;">JAMBI</span>
<span style="position:absolute;white-space:pre;font-family:'Liberation Sans',sans-serif;font-size:12px;line-height:12px;font-weight:700;font-style:normal;color:#000;top:457.99px;left:178.09px;letter-spacing:0.15px;">190</span>
<span style="position:absolute;white-space:pre;font-family:'Liberation Sans',sans-serif;font-size:8px;line-height:8px;font-weight:400;font-style:normal;color:#757575;top:459.78px;left:74.55px;letter-spacing:-0.686px;word-spacing:1.6px;">SULAWESI TENGGARA</span>
<span style="position:absolute;white-space:pre;font-family:'Liberation Sans',sans-serif;font-size:12px;line-height:12px;font-weight:700;font-style:normal;color:#000;top:471.57px;left:176.34px;letter-spacing:0.15px;">150</span>
<span style="position:absolute;white-space:pre;font-family:'Liberation Sans',sans-serif;font-size:8px;line-height:8px;font-weight:400;font-style:normal;color:#757575;top:473.35px;left:106.55px;letter-spacing:-0.356px;word-spacing:1.6px;">GORONTALO</span>
<span style="position:absolute;white-space:pre;font-family:'Liberation Sans',sans-serif;font-size:12px;line-height:12px;font-weight:700;font-style:normal;color:#000;top:485.14px;left:175.69px;letter-spacing:0.15px;">135</span>
<span style="position:absolute;white-space:pre;font-family:'Liberation Sans',sans-serif;font-size:8px;line-height:8px;font-weight:400;font-style:normal;color:#757575;top:486.93px;left:114.55px;letter-spacing:-0.683px;word-spacing:1.6px;">BENGKULU</span>
<span style="position:absolute;white-space:pre;font-family:'Liberation Sans',sans-serif;font-size:12px;line-height:12px;font-weight:700;font-style:normal;color:#000;top:498.72px;left:175.47px;letter-spacing:0.15px;">130</span>
<span style="position:absolute;white-space:pre;font-family:'Liberation Sans',sans-serif;font-size:8px;line-height:8px;font-weight:400;font-style:normal;color:#757575;top:500.50px;left:89.55px;letter-spacing:-0.552px;word-spacing:1.6px;">KEPULAUAN RIAU</span>
<span style="position:absolute;white-space:pre;font-family:'Liberation Sans',sans-serif;font-size:12px;line-height:12px;font-weight:700;font-style:normal;color:#000;top:512.29px;left:175.30px;letter-spacing:0.15px;">126</span>
<span style="position:absolute;white-space:pre;font-family:'Liberation Sans',sans-serif;font-size:8px;line-height:8px;font-weight:400;font-style:normal;color:#757575;top:514.08px;left:64.55px;letter-spacing:-0.604px;word-spacing:1.6px;">NUSA TENGGARA TIMUR</span>
<span style="position:absolute;white-space:pre;font-family:'Liberation Sans',sans-serif;font-size:12px;line-height:12px;font-weight:700;font-style:normal;color:#000;top:525.87px;left:174.42px;letter-spacing:0.15px;">106</span>
<span style="position:absolute;white-space:pre;font-family:'Liberation Sans',sans-serif;font-size:8px;line-height:8px;font-weight:400;font-style:normal;color:#757575;top:527.65px;left:129.80px;letter-spacing:-0.748px;word-spacing:1.6px;">PAPUA</span>
<span style="position:absolute;white-space:pre;font-family:'Liberation Sans',sans-serif;font-size:12px;line-height:12px;font-weight:700;font-style:normal;color:#000;top:539.44px;left:173.73px;letter-spacing:0.15px;">90</span>
<span style="position:absolute;white-space:pre;font-family:'Liberation Sans',sans-serif;font-size:8px;line-height:8px;font-weight:400;font-style:normal;color:#757575;top:541.23px;left:84.55px;letter-spacing:-0.536px;word-spacing:1.6px;">BANGKA BELITUNG</span>
<span style="position:absolute;white-space:pre;font-family:'Liberation Sans',sans-serif;font-size:12px;line-height:12px;font-weight:700;font-style:normal;color:#000;top:553.02px;left:173.38px;letter-spacing:0.15px;">82</span>
<span style="position:absolute;white-space:pre;font-family:'Liberation Sans',sans-serif;font-size:8px;line-height:8px;font-weight:400;font-style:normal;color:#757575;top:554.80px;left:103.55px;letter-spacing:-0.609px;word-spacing:1.6px;">PAPUA BARAT</span>
<span style="position:absolute;white-space:pre;font-family:'Liberation Sans',sans-serif;font-size:12px;line-height:12px;font-weight:700;font-style:normal;color:#000;top:566.59px;left:172.85px;letter-spacing:0.15px;">70</span>
<span style="position:absolute;white-space:pre;font-family:'Liberation Sans',sans-serif;font-size:8px;line-height:8px;font-weight:400;font-style:normal;color:#757575;top:568.38px;left:95.30px;letter-spacing:-0.513px;word-spacing:1.6px;">MALUKU UTARA</span>
<span style="position:absolute;white-space:pre;font-family:'Liberation Sans',sans-serif;font-size:12px;line-height:12px;font-weight:700;font-style:normal;color:#000;top:580.17px;left:172.81px;letter-spacing:0.15px;">69</span>
<span style="position:absolute;white-space:pre;font-family:'Liberation Sans',sans-serif;font-size:8px;line-height:8px;font-weight:400;font-style:normal;color:#757575;top:581.95px;left:90.30px;letter-spacing:-0.643px;word-spacing:1.6px;">SULAWESI UTARA</span>
<span style="position:absolute;white-space:pre;font-family:'Liberation Sans',sans-serif;font-size:12px;line-height:12px;font-weight:700;font-style:normal;color:#000;top:593.74px;left:172.64px;letter-spacing:0.15px;">65</span>
<span style="position:absolute;white-space:pre;font-family:'Liberation Sans',sans-serif;font-size:8px;line-height:8px;font-weight:400;font-style:normal;color:#757575;top:595.53px;left:122.80px;letter-spacing:-0.472px;word-spacing:1.6px;">MALUKU</span>
<span style="position:absolute;white-space:pre;font-family:'Liberation Sans',sans-serif;font-size:12px;line-height:12px;font-weight:700;font-style:normal;color:#000;top:607.32px;left:172.46px;letter-spacing:0.15px;">61</span>
<span style="position:absolute;white-space:pre;font-family:'Liberation Sans',sans-serif;font-size:8px;line-height:8px;font-weight:400;font-style:normal;color:#757575;top:609.10px;left:77.30px;letter-spacing:-0.322px;word-spacing:1.6px;">KALIMANTAN UTARA</span>
<span style="position:absolute;white-space:pre;font-family:'Liberation Sans',sans-serif;font-size:12px;line-height:12px;font-weight:700;font-style:normal;color:#000;top:620.89px;left:171.72px;letter-spacing:0.15px;">44</span>
<span style="position:absolute;white-space:pre;font-family:'Liberation Sans',sans-serif;font-size:8px;line-height:8px;font-weight:400;font-style:normal;color:#757575;top:622.68px;left:96.55px;letter-spacing:-0.587px;word-spacing:1.6px;">PAPUA TENGAH</span>
<span style="position:absolute;white-space:pre;font-family:'Liberation Sans',sans-serif;font-size:12px;line-height:12px;font-weight:700;font-style:normal;color:#000;top:634.47px;left:170.98px;letter-spacing:0.15px;">27</span>
<span style="position:absolute;white-space:pre;font-family:'Liberation Sans',sans-serif;font-size:8px;line-height:8px;font-weight:400;font-style:normal;color:#757575;top:636.25px;left:73.55px;letter-spacing:-0.497px;word-spacing:1.6px;">PAPUA PEGUNUNGAN</span>
<span style="position:absolute;white-space:pre;font-family:'Liberation Sans',sans-serif;font-size:12px;line-height:12px;font-weight:700;font-style:normal;color:#000;top:648.04px;left:170.06px;letter-spacing:0.15px;">6</span>
<span style="position:absolute;white-space:pre;font-family:'Liberation Sans',sans-serif;font-size:8px;line-height:8px;font-weight:400;font-style:normal;color:#757575;top:649.83px;left:94.55px;letter-spacing:-0.533px;word-spacing:1.6px;">PAPUA SELATAN</span>
<span style="position:absolute;white-space:pre;font-family:'Liberation Sans',sans-serif;font-size:12px;line-height:12px;font-weight:700;font-style:normal;color:#000;top:661.62px;left:169.89px;letter-spacing:0.15px;">2</span>
<span style="position:absolute;white-space:pre;font-family:'Liberation Sans',sans-serif;font-size:8px;line-height:8px;font-weight:400;font-style:normal;color:#757575;top:663.40px;left:80.30px;letter-spacing:-0.521px;word-spacing:1.6px;">PAPUA BARAT DAYA</span>
<span style="position:absolute;white-space:pre;font-family:'Liberation Sans',sans-serif;font-size:11.5px;line-height:11.5px;font-weight:700;font-style:italic;color:#000;top:662.27px;left:229.50px;letter-spacing:0.232px;">5 (lima) provinsi dengan kasus tertinggi</span>
<span style="position:absolute;white-space:pre;font-family:'Liberation Sans',sans-serif;font-size:11.5px;line-height:11.5px;font-weight:700;font-style:italic;color:#fff;top:690.27px;left:19.30px;letter-spacing:0.261px;">Data s.d M2 Tahun 2026.</span>
<span style="position:absolute;white-space:pre;font-family:'Liberation Sans',sans-serif;font-size:11.5px;line-height:11.5px;font-weight:400;font-style:italic;color:#fff;top:690.27px;left:163.10px;letter-spacing:0.334px;">Sumber: SKDR Tanggal 24 Januari 2025 Pukul 08.00 WIB</span>
<span style="position:absolute;white-space:pre;font-family:'Liberation Sans',sans-serif;font-size:12px;line-height:12px;font-weight:400;font-style:normal;color:#262626;top:445.24px;right:697.90px;letter-spacing:-0.45px;">0</span>
<span style="position:absolute;white-space:pre;font-family:'Liberation Sans',sans-serif;font-size:12px;line-height:12px;font-weight:400;font-style:normal;color:#262626;top:386.94px;right:697.90px;letter-spacing:-0.45px;">5,000</span>
<span style="position:absolute;white-space:pre;font-family:'Liberation Sans',sans-serif;font-size:12px;line-height:12px;font-weight:400;font-style:normal;color:#262626;top:328.64px;right:697.90px;letter-spacing:-0.45px;">10,000</span>
<span style="position:absolute;white-space:pre;font-family:'Liberation Sans',sans-serif;font-size:12px;line-height:12px;font-weight:400;font-style:normal;color:#262626;top:270.34px;right:697.90px;letter-spacing:-0.45px;">15,000</span>
<span style="position:absolute;white-space:pre;font-family:'Liberation Sans',sans-serif;font-size:12px;line-height:12px;font-weight:400;font-style:normal;color:#262626;top:212.04px;right:697.90px;letter-spacing:-0.45px;">20,000</span>
<span style="position:absolute;white-space:pre;font-family:'Liberation Sans',sans-serif;font-size:12px;line-height:12px;font-weight:400;font-style:normal;color:#262626;top:153.74px;right:697.90px;letter-spacing:-0.45px;">25,000</span>
<span style="position:absolute;white-space:pre;font-family:'Liberation Sans',sans-serif;font-size:20px;line-height:20px;font-weight:700;font-style:normal;color:#fff;top:537.87px;left:569.40px;transform:scaleX(1.0386);transform-origin:0 0;">Analisa</span>
<span style="position:absolute;white-space:pre;font-family:'Liberation Sans',sans-serif;font-size:19px;line-height:19px;font-weight:400;font-style:normal;color:#3c3c3c;top:575.72px;left:581.25px;transform:scaleX(0.9922);transform-origin:0 0;">Tren</span>
<span style="position:absolute;white-space:pre;font-family:'Liberation Sans',sans-serif;font-size:19px;line-height:19px;font-weight:400;font-style:normal;color:#3c3c3c;top:575.72px;left:623.30px;transform:scaleX(0.9505);transform-origin:0 0;">kasus</span>
<span style="position:absolute;white-space:pre;font-family:'Liberation Sans',sans-serif;font-size:19px;line-height:19px;font-weight:400;font-style:normal;color:#3c3c3c;top:575.72px;left:676.25px;transform:scaleX(0.9802);transform-origin:0 0;">suspek</span>
<span style="position:absolute;white-space:pre;font-family:'Liberation Sans',sans-serif;font-size:19px;line-height:19px;font-weight:400;font-style:normal;color:#3c3c3c;top:575.72px;left:741.25px;transform:scaleX(1.1195);transform-origin:0 0;">demam</span>
<span style="position:absolute;white-space:pre;font-family:'Liberation Sans',sans-serif;font-size:19px;line-height:19px;font-weight:400;font-style:normal;color:#3c3c3c;top:575.72px;left:819.50px;transform:scaleX(1.0868);transform-origin:0 0;">tifoid</span>
<span style="position:absolute;white-space:pre;font-family:'Liberation Sans',sans-serif;font-size:19px;line-height:19px;font-weight:400;font-style:normal;color:#3c3c3c;top:575.72px;left:873.40px;transform:scaleX(1.0975);transform-origin:0 0;">bergerak</span>
<span style="position:absolute;white-space:pre;font-family:'Liberation Sans',sans-serif;font-size:19px;line-height:19px;font-weight:400;font-style:normal;color:#3c3c3c;top:575.72px;left:961.40px;transform:scaleX(1.1015);transform-origin:0 0;">meningkat</span>
<span style="position:absolute;white-space:pre;font-family:'Liberation Sans',sans-serif;font-size:19px;line-height:19px;font-weight:400;font-style:normal;color:#3c3c3c;top:575.72px;left:1066.25px;transform:scaleX(1.0442);transform-origin:0 0;">secara</span>
<span style="position:absolute;white-space:pre;font-family:'Liberation Sans',sans-serif;font-size:19px;line-height:19px;font-weight:400;font-style:normal;color:#3c3c3c;top:575.72px;left:1132.64px;transform:scaleX(1.1101);transform-origin:0 0;">perlahan</span>
<span style="position:absolute;white-space:pre;font-family:'Liberation Sans',sans-serif;font-size:19px;line-height:19px;font-weight:400;font-style:normal;color:#3c3c3c;top:598.62px;left:581.25px;transform:scaleX(1.0032);transform-origin:0 0;">sejak</span>
<span style="position:absolute;white-space:pre;font-family:'Liberation Sans',sans-serif;font-size:19px;line-height:19px;font-weight:400;font-style:normal;color:#3c3c3c;top:598.62px;left:631.51px;transform:scaleX(0.9948);transform-origin:0 0;">M-34</span>
<span style="position:absolute;white-space:pre;font-family:'Liberation Sans',sans-serif;font-size:19px;line-height:19px;font-weight:400;font-style:normal;color:#3c3c3c;top:598.62px;left:681.25px;transform:scaleX(1.0928);transform-origin:0 0;">ditahun</span>
<span style="position:absolute;white-space:pre;font-family:'Liberation Sans',sans-serif;font-size:19px;line-height:19px;font-weight:400;font-style:normal;color:#3c3c3c;top:598.62px;left:755.00px;transform:scaleX(0.9660);transform-origin:0 0;">2024</span>
<span style="position:absolute;white-space:pre;font-family:'Liberation Sans',sans-serif;font-size:19px;line-height:19px;font-weight:400;font-style:normal;color:#3c3c3c;top:598.62px;left:801.44px;transform:scaleX(1.0622);transform-origin:0 0;">hingga</span>
<span style="position:absolute;white-space:pre;font-family:'Liberation Sans',sans-serif;font-size:19px;line-height:19px;font-weight:400;font-style:normal;color:#3c3c3c;top:598.62px;left:872.00px;transform:scaleX(1.1029);transform-origin:0 0;">awal</span>
<span style="position:absolute;white-space:pre;font-family:'Liberation Sans',sans-serif;font-size:19px;line-height:19px;font-weight:400;font-style:normal;color:#3c3c3c;top:598.62px;left:920.33px;transform:scaleX(0.9245);transform-origin:0 0;">Mei</span>
<span style="position:absolute;white-space:pre;font-family:'Liberation Sans',sans-serif;font-size:19px;line-height:19px;font-weight:400;font-style:normal;color:#3c3c3c;top:598.62px;left:956.25px;transform:scaleX(0.9456);transform-origin:0 0;">2025.</span>
<span style="position:absolute;white-space:pre;font-family:'Liberation Sans',sans-serif;font-size:19px;line-height:19px;font-weight:400;font-style:normal;color:#3c3c3c;top:598.62px;left:1010.00px;transform:scaleX(1.1001);transform-origin:0 0;">dan</span>
<span style="position:absolute;white-space:pre;font-family:'Liberation Sans',sans-serif;font-size:19px;line-height:19px;font-weight:400;font-style:normal;color:#3c3c3c;top:598.62px;left:1050.23px;transform:scaleX(1.0187);transform-origin:0 0;">M-29</span>
<span style="position:absolute;white-space:pre;font-family:'Liberation Sans',sans-serif;font-size:19px;line-height:19px;font-weight:400;font-style:normal;color:#3c3c3c;top:598.62px;left:1101.25px;transform:scaleX(1.1186);transform-origin:0 0;">sampai</span>
<span style="position:absolute;white-space:pre;font-family:'Liberation Sans',sans-serif;font-size:19px;line-height:19px;font-weight:400;font-style:normal;color:#3c3c3c;top:621.12px;left:581.25px;transform:scaleX(1.1419);transform-origin:0 0;">dengan</span>
<span style="position:absolute;white-space:pre;font-family:'Liberation Sans',sans-serif;font-size:19px;line-height:19px;font-weight:400;font-style:normal;color:#3c3c3c;top:621.12px;left:657.78px;transform:scaleX(0.9707);transform-origin:0 0;">M-41</span>
<span style="position:absolute;white-space:pre;font-family:'Liberation Sans',sans-serif;font-size:19px;line-height:19px;font-weight:400;font-style:normal;color:#3c3c3c;top:621.12px;left:708.75px;transform:scaleX(1.1282);transform-origin:0 0;">tahun</span>
<span style="position:absolute;white-space:pre;font-family:'Liberation Sans',sans-serif;font-size:19px;line-height:19px;font-weight:400;font-style:normal;color:#3c3c3c;top:621.12px;left:767.50px;transform:scaleX(0.9456);transform-origin:0 0;">2025.</span>
<span style="position:absolute;white-space:pre;font-family:'Liberation Sans',sans-serif;font-size:19px;line-height:19px;font-weight:400;font-style:normal;color:#3c3c3c;top:643.12px;left:581.25px;transform:scaleX(0.9981);transform-origin:0 0;">Sanitasi</span>
<span style="position:absolute;white-space:pre;font-family:'Liberation Sans',sans-serif;font-size:19px;line-height:19px;font-weight:400;font-style:normal;color:#3c3c3c;top:643.12px;left:654.50px;transform:scaleX(1.1001);transform-origin:0 0;">dan</span>
<span style="position:absolute;white-space:pre;font-family:'Liberation Sans',sans-serif;font-size:19px;line-height:19px;font-weight:400;font-style:normal;color:#3c3c3c;top:643.12px;left:695.20px;transform:scaleX(1.0533);transform-origin:0 0;">kebersihan</span>
<span style="position:absolute;white-space:pre;font-family:'Liberation Sans',sans-serif;font-size:19px;line-height:19px;font-weight:400;font-style:normal;color:#3c3c3c;top:643.12px;left:798.75px;transform:scaleX(1.0767);transform-origin:0 0;">yang</span>
<span style="position:absolute;white-space:pre;font-family:'Liberation Sans',sans-serif;font-size:19px;line-height:19px;font-weight:400;font-style:normal;color:#3c3c3c;top:643.12px;left:848.92px;transform:scaleX(1.0786);transform-origin:0 0;">buruk,</span>
<span style="position:absolute;white-space:pre;font-family:'Liberation Sans',sans-serif;font-size:19px;line-height:19px;font-weight:400;font-style:normal;color:#3c3c3c;top:643.12px;left:905.17px;transform:scaleX(1.0776);transform-origin:0 0;">kurangnya</span>
<span style="position:absolute;white-space:pre;font-family:'Liberation Sans',sans-serif;font-size:19px;line-height:19px;font-weight:400;font-style:normal;color:#3c3c3c;top:643.12px;left:1008.42px;transform:scaleX(1.0813);transform-origin:0 0;">kesadaran</span>
<span style="position:absolute;white-space:pre;font-family:'Liberation Sans',sans-serif;font-size:19px;line-height:19px;font-weight:400;font-style:normal;color:#3c3c3c;top:643.12px;left:1110.16px;transform:scaleX(1.0871);transform-origin:0 0;">masyarakat</span>
<span style="position:absolute;white-space:pre;font-family:'Liberation Sans',sans-serif;font-size:19px;line-height:19px;font-weight:400;font-style:normal;color:#3c3c3c;top:665.72px;left:580.16px;transform:scaleX(1.0932);transform-origin:0 0;">menerapkan</span>
<span style="position:absolute;white-space:pre;font-family:'Liberation Sans',sans-serif;font-size:19px;line-height:19px;font-weight:400;font-style:normal;color:#3c3c3c;top:665.72px;left:704.15px;transform:scaleX(0.8489);transform-origin:0 0;">PHBS</span>
<span style="position:absolute;white-space:pre;font-family:'Liberation Sans',sans-serif;font-size:19px;line-height:19px;font-weight:400;font-style:normal;color:#3c3c3c;top:665.72px;left:757.67px;transform:scaleX(1.0830);transform-origin:0 0;">merupakan</span>
<span style="position:absolute;white-space:pre;font-family:'Liberation Sans',sans-serif;font-size:19px;line-height:19px;font-weight:400;font-style:normal;color:#3c3c3c;top:665.72px;left:864.50px;transform:scaleX(1.0144);transform-origin:0 0;">salah</span>
<span style="position:absolute;white-space:pre;font-family:'Liberation Sans',sans-serif;font-size:19px;line-height:19px;font-weight:400;font-style:normal;color:#3c3c3c;top:665.72px;left:916.25px;transform:scaleX(1.0256);transform-origin:0 0;">satu</span>
<span style="position:absolute;white-space:pre;font-family:'Liberation Sans',sans-serif;font-size:19px;line-height:19px;font-weight:400;font-style:normal;color:#3c3c3c;top:665.72px;left:960.00px;transform:scaleX(1.0635);transform-origin:0 0;">faktor</span>
<span style="position:absolute;white-space:pre;font-family:'Liberation Sans',sans-serif;font-size:19px;line-height:19px;font-weight:400;font-style:normal;color:#3c3c3c;top:665.72px;left:1017.71px;transform:scaleX(1.0420);transform-origin:0 0;">peningkatan</span>
<span style="position:absolute;white-space:pre;font-family:'Liberation Sans',sans-serif;font-size:19px;line-height:19px;font-weight:400;font-style:normal;color:#3c3c3c;top:665.72px;left:1130.12px;transform:scaleX(1.1291);transform-origin:0 0;">kasus</span>
<span style="position:absolute;white-space:pre;font-family:'Liberation Sans',sans-serif;font-size:19px;line-height:19px;font-weight:700;font-style:normal;color:#fff;top:660.12px;left:1220.20px;letter-spacing:0.433px;">58</span>
</body></html>
